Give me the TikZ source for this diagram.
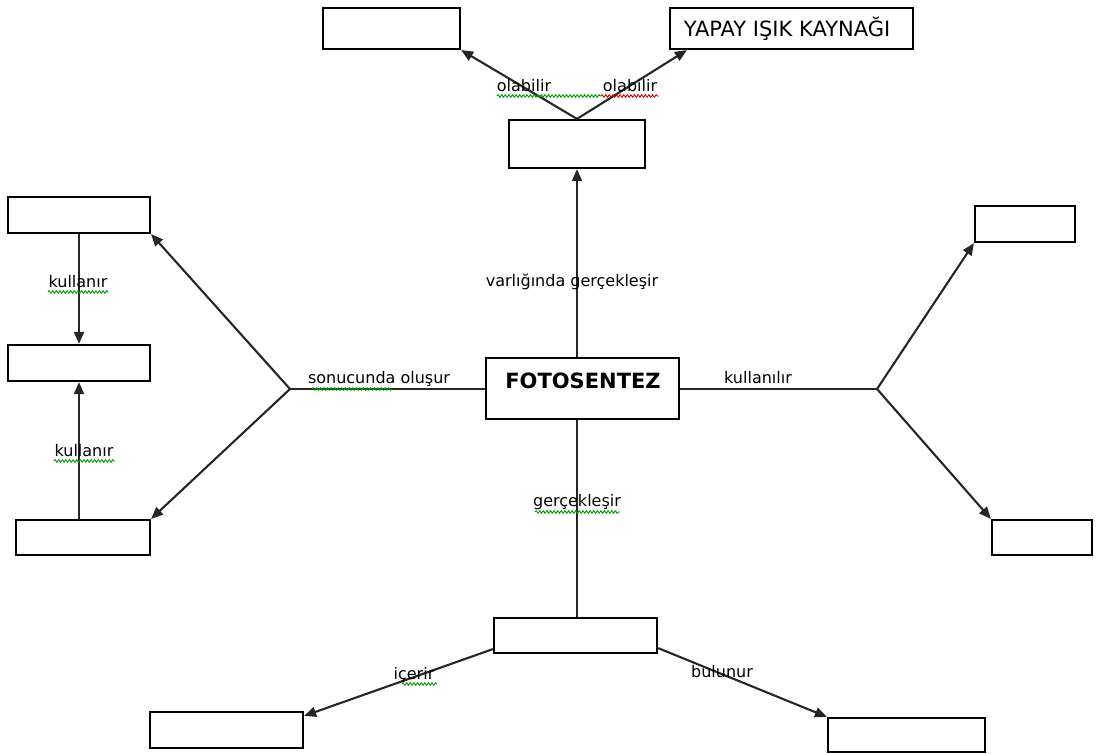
\documentclass[tikz,border=0pt]{standalone}
\usepackage{fontspec}
\setmainfont{DejaVu Sans}
\usetikzlibrary{arrows.meta,decorations.pathmorphing}
\begin{document}
\begin{tikzpicture}[x=1pt,y=-1pt,
  box/.style={draw,line width=2.2pt,rectangle,inner sep=0pt},
  link/.style={line width=2.1pt,draw=black!85},
  arr/.style={link,-{Triangle[length=12pt,width=10pt]}},
  lbl/.style={font=\fontsize{16}{18}\selectfont,inner sep=1pt},
  squig/.style={decorate,decoration={snake,amplitude=1.3pt,segment length=3.6pt},line width=0.9pt},
  sgreen/.style={squig,draw=green!60!black},
  sred/.style={squig,draw=red!85!black}]
\useasboundingbox (0,0) rectangle (1100,754);

% boxes
\node[box,minimum width=137pt,minimum height=41pt] (tl) at (391.5,28.5) {};
\node[box,minimum width=243pt,minimum height=41pt] (yapay) at (791.5,28.5) {};
\node (yapaytext) at (787,29) {\fontsize{21}{24}\selectfont YAPAY IŞIK KAYNAĞI};
\node[box,minimum width=136pt,minimum height=48pt] (mt) at (577,144) {};
\node[box,minimum width=193pt,minimum height=61pt] (foto) at (582.5,388.5) {};
\node[font=\bfseries\fontsize{21}{24}\selectfont] (fototext) at (583,381) {FOTOSENTEZ};
\node[box,minimum width=142pt,minimum height=36pt] (l1) at (79,215) {};
\node[box,minimum width=142pt,minimum height=36pt] (l2) at (79,363) {};
\node[box,minimum width=134pt,minimum height=35pt] (l3) at (83,537.5) {};
\node[box,minimum width=100pt,minimum height=36pt] (r1) at (1025,224) {};
\node[box,minimum width=100pt,minimum height=35pt] (r2) at (1042,537.5) {};
\node[box,minimum width=163pt,minimum height=35pt] (bm) at (575.5,635.5) {};
\node[box,minimum width=153pt,minimum height=36pt] (bl) at (226.5,730) {};
\node[box,minimum width=157pt,minimum height=34pt] (br) at (906.5,735) {};

% branching points
\coordinate (lj) at (290,389);
\coordinate (rj) at (877,389);

% connectors
\draw[arr] (mt.north) -- (tl.south east);
\draw[arr] (mt.north) -- ([xshift=18pt]yapay.south west);
\draw[arr] (mt.south |- foto.north) -- (mt.south);
\draw[link] (foto.west |- lj) -- (lj);
\draw[arr] (lj) -- (l1.south east);
\draw[arr] (lj) -- (l3.north east);
\draw[arr] (l1.south) -- (l2.north);
\draw[arr] (l2.south |- l3.north) -- (l2.south);
\draw[link] (foto.east |- rj) -- (rj);
\draw[arr] (rj) -- (r1.south west);
\draw[arr] (rj) -- (r2.north west);
\draw[link] (mt.south |- foto.south) -- (mt.south |- bm.north);
\draw[arr] ([yshift=5pt]bm.south west) -- ([yshift=-5pt]bl.north east);
\draw[arr] ([yshift=6pt]bm.south east) -- (br.north west);

% labels
\node[lbl] (o1) at (524,86) {olabilir};
\node[lbl] (o2) at (630,86) {olabilir};
\node[lbl] (var) at (572,282) {varlığında gerçekleşir};
\node[lbl] (son) at (379,379) {sonucunda oluşur};
\node[lbl] (kul) at (758,378) {kullanılır};
\node[lbl] (k1) at (78,282) {kullanır};
\node[lbl] (k2) at (84,451) {kullanır};
\node[lbl] (ger) at (577,502) {gerçekleşir};
\node[lbl] (ice) at (414,675) {içerir};
\node[lbl] (bul) at (722,672) {bulunur};

% spelling marks
\draw[sgreen] (497,96) -- (601,96);
\draw[sred] (601,96) -- (659,96);
\draw[sgreen] (48,292) -- (108,292);
\draw[sgreen] (54,461) -- (115,461);
\draw[sgreen] (312,389) -- (392,389);
\draw[sgreen] (535,512) -- (620,512);
\draw[sgreen] (402,684) -- (437,684);
\end{tikzpicture}
\end{document}
